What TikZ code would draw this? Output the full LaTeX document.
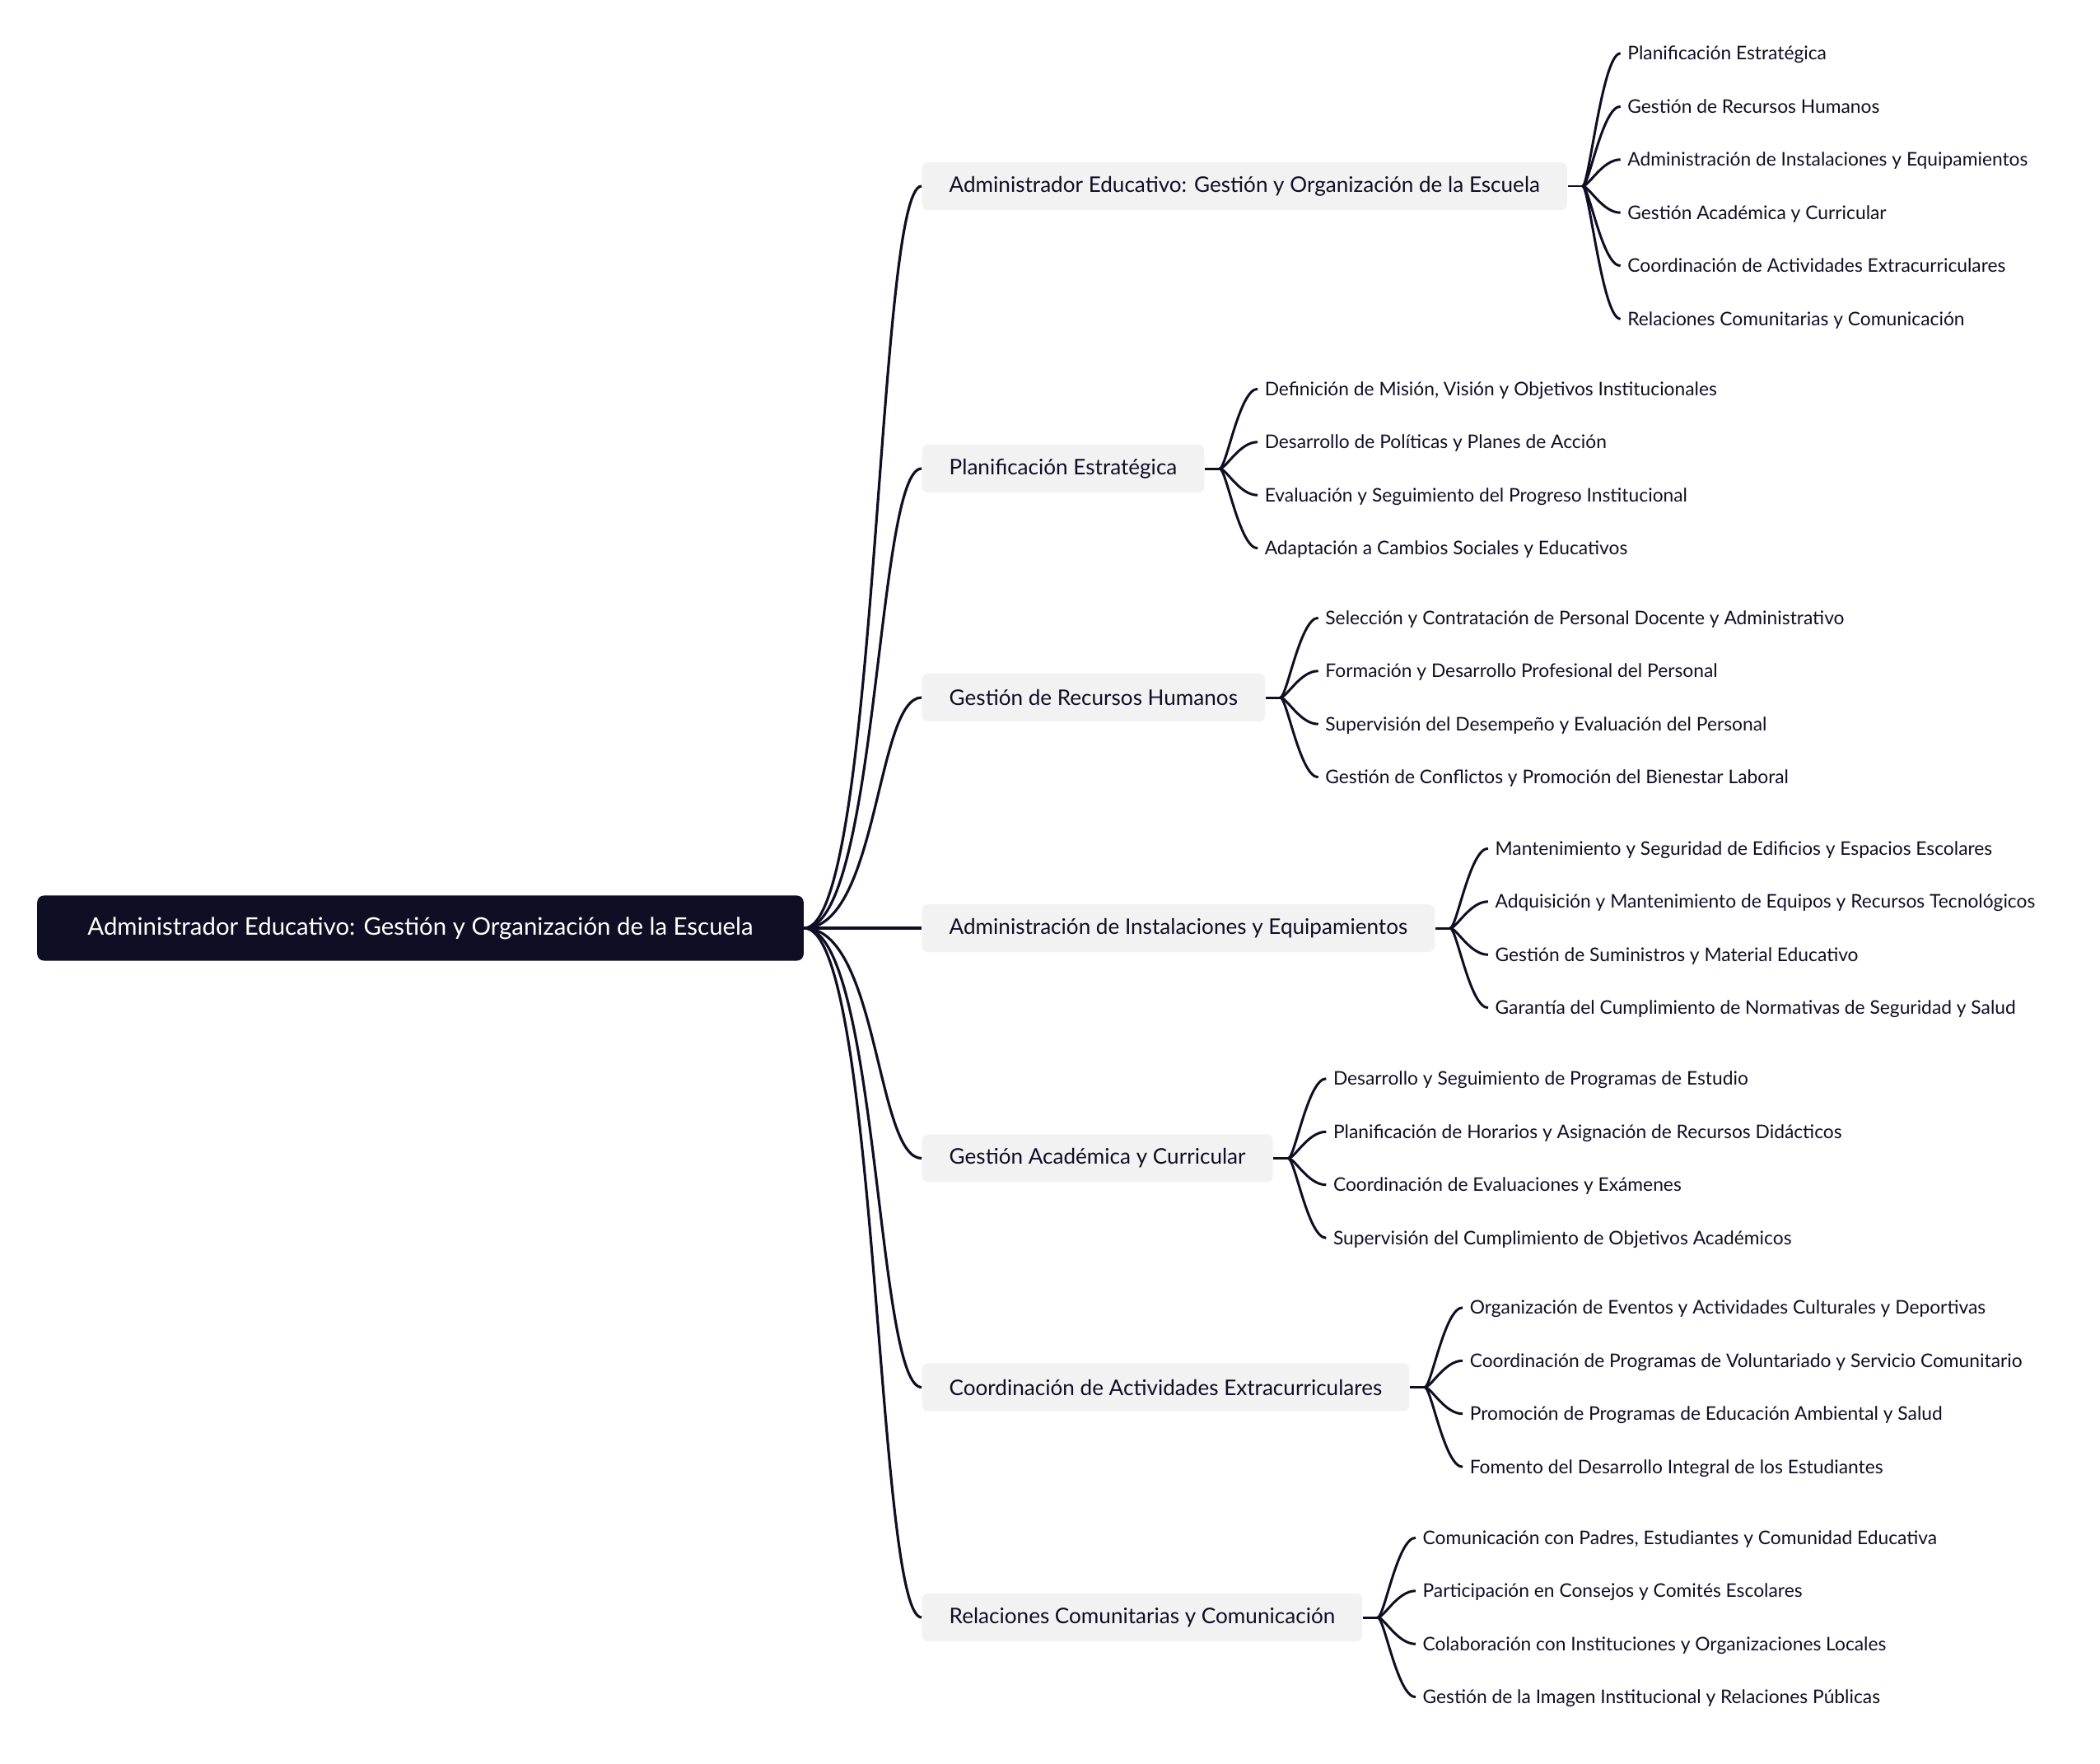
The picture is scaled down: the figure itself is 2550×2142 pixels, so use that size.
\documentclass[tikz,border=0pt]{standalone}
\usepackage{fontspec}
\setmainfont{Lato}
\definecolor{ink}{HTML}{100E24}
\definecolor{paper}{HTML}{F2F2F2}
\tikzset{
	root/.style={fill=ink,text=white,rounded corners=0.08cm,minimum width=9.3cm,minimum height=0.79cm,font=\fontsize{8.36}{10}\selectfont},
	topic/.style={fill=paper,text=ink,rounded corners=0.07cm,inner xsep=0.33cm,minimum height=0.58cm,anchor=west,font=\fontsize{7.42}{9}\selectfont},
	leaf/.style={text=ink,inner xsep=0.08cm,inner ysep=0pt,text height=0.2cm,text depth=0.04cm,anchor=west,font=\fontsize{6.48}{8}\selectfont},
	link/.style={draw=ink,line width=0.9pt},
	twig/.style={draw=ink,line width=0.85pt}
}
\begin{document}
\begin{tikzpicture}[x=0.01cm,y=-0.01cm]
		\useasboundingbox (0,0) rectangle (2550,2142);
		\node[root] (r) at (510.5,1127) {Administrador Educativo: Gestión y Organización de la Escuela};
		\node[topic] (p1) at (1119,226) {Administrador Educativo: Gestión y Organización de la Escuela};
		\node[topic] (p2) at (1119,569) {Planificación Estratégica};
		\node[topic] (p3) at (1119,847) {Gestión de Recursos Humanos};
		\node[topic] (p4) at (1119,1127) {Administración de Instalaciones y Equipamientos};
		\node[topic] (p5) at (1119,1406.5) {Gestión Académica y Curricular};
		\node[topic] (p6) at (1119,1684.5) {Coordinación de Actividades Extracurriculares};
		\node[topic] (p7) at (1119,1964) {Relaciones Comunitarias y Comunicación};
		\node[leaf] (a1) at ([shift={(64,-161.25)}]p1.east) {Planificación Estratégica};
		\node[leaf] (a2) at ([shift={(64,-96.75)}]p1.east) {Gestión de Recursos Humanos};
		\node[leaf] (a3) at ([shift={(64,-32.25)}]p1.east) {Administración de Instalaciones y Equipamientos};
		\node[leaf] (a4) at ([shift={(64,32.25)}]p1.east) {Gestión Académica y Curricular};
		\node[leaf] (a5) at ([shift={(64,96.75)}]p1.east) {Coordinación de Actividades Extracurriculares};
		\node[leaf] (a6) at ([shift={(64,161.25)}]p1.east) {Relaciones Comunitarias y Comunicación};
		\node[leaf] (b1) at ([shift={(64,-96.75)}]p2.east) {Definición de Misión, Visión y Objetivos Institucionales};
		\node[leaf] (b2) at ([shift={(64,-32.25)}]p2.east) {Desarrollo de Políticas y Planes de Acción};
		\node[leaf] (b3) at ([shift={(64,32.25)}]p2.east) {Evaluación y Seguimiento del Progreso Institucional};
		\node[leaf] (b4) at ([shift={(64,96.75)}]p2.east) {Adaptación a Cambios Sociales y Educativos};
		\node[leaf] (c1) at ([shift={(64,-96.75)}]p3.east) {Selección y Contratación de Personal Docente y Administrativo};
		\node[leaf] (c2) at ([shift={(64,-32.25)}]p3.east) {Formación y Desarrollo Profesional del Personal};
		\node[leaf] (c3) at ([shift={(64,32.25)}]p3.east) {Supervisión del Desempeño y Evaluación del Personal};
		\node[leaf] (c4) at ([shift={(64,96.75)}]p3.east) {Gestión de Conflictos y Promoción del Bienestar Laboral};
		\node[leaf] (d1) at ([shift={(64,-96.75)}]p4.east) {Mantenimiento y Seguridad de Edificios y Espacios Escolares};
		\node[leaf] (d2) at ([shift={(64,-32.25)}]p4.east) {Adquisición y Mantenimiento de Equipos y Recursos Tecnológicos};
		\node[leaf] (d3) at ([shift={(64,32.25)}]p4.east) {Gestión de Suministros y Material Educativo};
		\node[leaf] (d4) at ([shift={(64,96.75)}]p4.east) {Garantía del Cumplimiento de Normativas de Seguridad y Salud};
		\node[leaf] (e1) at ([shift={(64,-96.75)}]p5.east) {Desarrollo y Seguimiento de Programas de Estudio};
		\node[leaf] (e2) at ([shift={(64,-32.25)}]p5.east) {Planificación de Horarios y Asignación de Recursos Didácticos};
		\node[leaf] (e3) at ([shift={(64,32.25)}]p5.east) {Coordinación de Evaluaciones y Exámenes};
		\node[leaf] (e4) at ([shift={(64,96.75)}]p5.east) {Supervisión del Cumplimiento de Objetivos Académicos};
		\node[leaf] (f1) at ([shift={(64,-96.75)}]p6.east) {Organización de Eventos y Actividades Culturales y Deportivas};
		\node[leaf] (f2) at ([shift={(64,-32.25)}]p6.east) {Coordinación de Programas de Voluntariado y Servicio Comunitario};
		\node[leaf] (f3) at ([shift={(64,32.25)}]p6.east) {Promoción de Programas de Educación Ambiental y Salud};
		\node[leaf] (f4) at ([shift={(64,96.75)}]p6.east) {Fomento del Desarrollo Integral de los Estudiantes};
		\node[leaf] (g1) at ([shift={(64,-96.75)}]p7.east) {Comunicación con Padres, Estudiantes y Comunidad Educativa};
		\node[leaf] (g2) at ([shift={(64,-32.25)}]p7.east) {Participación en Consejos y Comités Escolares};
		\node[leaf] (g3) at ([shift={(64,32.25)}]p7.east) {Colaboración con Instituciones y Organizaciones Locales};
		\node[leaf] (g4) at ([shift={(64,96.75)}]p7.east) {Gestión de la Imagen Institucional y Relaciones Públicas};
		\foreach \q in {p1,p2,p3,p4,p5,p6,p7}
			\draw[link] (r.east) .. controls +(90,0) and +(-55,0) .. (\q.west);
		\foreach \q/\n/\k in {p1/a/6,p2/b/4,p3/c/4,p4/d/4,p5/e/4,p6/f/4,p7/g/4}{
			\draw[twig] (\q.east) -- ++(18,0) coordinate (\n0);
			\foreach \j in {1,...,\k}
				\draw[twig] (\n0) .. controls +(8,0) and +(-22,0) .. (\n\j.west);
		}
\end{tikzpicture}
\end{document}
